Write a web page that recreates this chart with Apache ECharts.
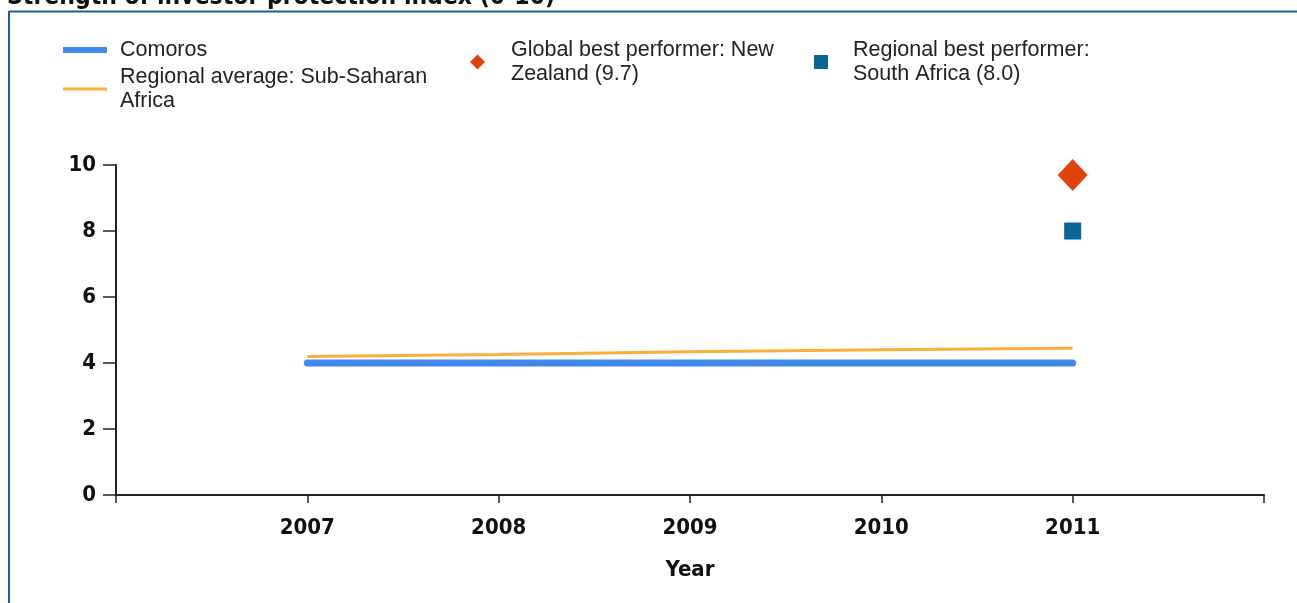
<!DOCTYPE html>
<html>
<head>
<meta charset="utf-8">
<script src="https://cdn.jsdelivr.net/npm/echarts@6/dist/echarts.min.js"></script>
<style>html,body{margin:0;padding:0;background:#fff}#c{width:1297px;height:603px}</style>
</head>
<body>
<div id="c"></div>
<script>
var years = [2007, 2008, 2009, 2010, 2011];
var comoros = [4, 4, 4, 4, 4];
var regionalAvg = [4.2, 4.26, 4.34, 4.4, 4.45];
var globalBest = [[2011, 9.7]];
var regionalBest = [[2011, 8.0]];
var yTicks = [0, 2, 4, 6, 8, 10];

var titleText = 'Strength of investor protection index (0-10)';
var axisFont = '"DejaVu Sans Condensed", "DejaVu Sans", sans-serif';
var legendFont = '"Liberation Sans", Arial, sans-serif';

function zip(xs, ys) { return xs.map(function (x, i) { return [x, ys[i]]; }); }

var chart = echarts.init(document.getElementById('c'));
var legendText = { fontFamily: legendFont, fontSize: 21.5, color: '#222', lineHeight: 24 };
function legendTS(padLeft) { return Object.assign({}, legendText, { padding: [0, 0, 0, padLeft] }); }

chart.setOption({
  animation: false,
  graphic: [
    { type: 'line', shape: { x1: 9, y1: 11.5, x2: 1297, y2: 11.5 }, style: { stroke: '#1d5a9e', lineWidth: 2 } },
    { type: 'line', shape: { x1: 9, y1: 11, x2: 9, y2: 603 }, style: { stroke: '#1d5a9e', lineWidth: 2 } },
    { type: 'text', x: 7, y: -2, style: { text: titleText, font: 'bold 24.5px ' + axisFont, fill: '#111', verticalAlign: 'middle' } }
  ],
  legend: [
    { left: 63, top: 38, padding: 0, orient: 'vertical', itemWidth: 44, itemHeight: 6, icon: 'rect', selectedMode: false,
      data: ['Comoros'], textStyle: legendTS(8) },
    { left: 63, top: 65, padding: 0, orient: 'vertical', itemWidth: 44, itemHeight: 3, icon: 'rect', selectedMode: false,
      data: ['Regional average: Sub-Saharan Africa'], textStyle: legendTS(8),
      formatter: function () { return 'Regional average: Sub-Saharan\nAfrica'; } },
    { left: 470, top: 38, padding: 0, itemWidth: 15, itemHeight: 15, icon: 'diamond', selectedMode: false,
      data: ['Global best performer: New Zealand (9.7)'], textStyle: legendTS(21),
      formatter: function () { return 'Global best performer: New\nZealand (9.7)'; } },
    { left: 814, top: 38, padding: 0, itemWidth: 14, itemHeight: 14, icon: 'rect', selectedMode: false,
      data: ['Regional best performer: South Africa (8.0)'], textStyle: legendTS(20),
      formatter: function () { return 'Regional best performer:\nSouth Africa (8.0)'; } }
  ],
  grid: { left: 116, right: 33, top: 165, bottom: 108 },
  xAxis: {
    type: 'value', min: 2006, max: 2012, interval: 1,
    name: 'Year', nameLocation: 'middle', nameGap: 64,
    nameTextStyle: { fontFamily: axisFont, fontWeight: 'bold', fontSize: 22, color: '#111' },
    axisLine: { lineStyle: { color: '#222', width: 2 } },
    axisTick: { length: 8, lineStyle: { color: '#222', width: 1.5 } },
    splitLine: { show: false },
    axisLabel: {
      margin: 22, fontFamily: axisFont, fontWeight: 'bold', fontSize: 22, color: '#111',
      formatter: function (v) { return years.indexOf(v) >= 0 ? String(v) : ''; }
    }
  },
  yAxis: {
    type: 'value', min: yTicks[0], max: yTicks[yTicks.length - 1], interval: 2,
    axisLine: { show: true, lineStyle: { color: '#222', width: 2 } },
    axisTick: { show: true, length: 13, lineStyle: { color: '#222', width: 1.5 } },
    splitLine: { show: false },
    axisLabel: { margin: 20, fontFamily: axisFont, fontWeight: 'bold', fontSize: 22, color: '#111' }
  },
  series: [
    { name: 'Comoros', type: 'line', data: zip(years, comoros), showSymbol: false, symbol: 'none',
      itemStyle: { color: '#4189ea' }, lineStyle: { color: '#4189ea', width: 7, cap: 'round' }, z: 3 },
    { name: 'Regional average: Sub-Saharan Africa', type: 'line', data: zip(years, regionalAvg), showSymbol: false, symbol: 'none',
      itemStyle: { color: '#fbae3c' }, lineStyle: { color: '#fbae3c', width: 3 }, z: 2 },
    { name: 'Global best performer: New Zealand (9.7)', type: 'scatter', data: globalBest,
      symbol: 'diamond', symbolSize: [30, 32], itemStyle: { color: '#e0420c', opacity: 1 } },
    { name: 'Regional best performer: South Africa (8.0)', type: 'scatter', data: regionalBest,
      symbol: 'rect', symbolSize: 17, itemStyle: { color: '#086594', opacity: 1 } }
  ]
});
</script>
</body>
</html>
